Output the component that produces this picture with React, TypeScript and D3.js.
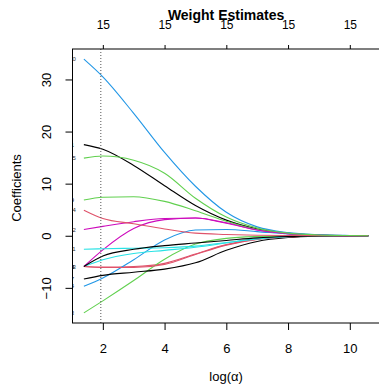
import { useEffect, useRef } from 'react';
import * as d3 from 'd3';

// ─── Data ───────────────────────────────────────────────────

const logAlpha = [1.386, 2, 3, 4, 5, 6, 7, 8, 9, 10, 10.6];

const v1 = [17.5, 16.6, 13.5, 9.6, 5.8, 3.0, 1.3, 0.45, 0.12, 0.03, 0];
const v2 = [-5.9, -6.0, -5.9, -5.3, -3.5, -1.7, -0.65, -0.22, -0.05, 0, 0];
const v3 = [-14.8, -12.5, -8.6, -4.5, -1.6, -0.5, -0.15, -0.05, 0, 0, 0];
const v4 = [-9.7, -8.1, -4.6, -0.8, 1.1, 1.2, 0.8, 0.35, 0.1, 0.02, 0];
const v5 = [-5.9, -4.6, -3.4, -2.8, -2.2, -1.4, -0.6, -0.2, -0.05, 0, 0];
const v6 = [-5.9, -2.7, 1.4, 3.1, 3.4, 2.5, 1.1, 0.4, 0.1, 0.02, 0];
const v7 = [-8.3, -7.6, -7.0, -6.4, -5.2, -2.8, -1.1, -0.35, -0.08, 0, 0];
const v8 = [-5.9, -6.1, -6.1, -5.5, -3.6, -1.8, -0.7, -0.25, -0.06, 0, 0];
const v9 = [6.85, 7.4, 7.5, 6.6, 4.8, 2.8, 1.2, 0.45, 0.12, 0.03, 0];
const v10 = [33.9, 30.5, 23.5, 16.0, 9.5, 4.5, 1.7, 0.6, 0.2, 0.05, 0];
const v11 = [-2.6, -2.5, -2.4, -2.3, -2.0, -1.3, -0.6, -0.2, -0.05, 0, 0];
const v12 = [1.2, 1.8, 2.7, 3.3, 3.4, 2.4, 1.1, 0.4, 0.1, 0.02, 0];
const v13 = [-5.9, -3.9, -2.6, -1.9, -1.4, -0.9, -0.4, -0.15, -0.04, 0, 0];
const v14 = [4.9, 3.3, 2.3, 1.3, 0.5, 0.25, 0.1, 0.05, 0.02, 0, 0];
const v15 = [14.9, 15.3, 14.5, 12.0, 7.2, 3.6, 1.5, 0.5, 0.15, 0.04, 0];

const coefs = [v1, v2, v3, v4, v5, v6, v7, v8, v9, v10, v11, v12, v13, v14, v15];
const varLabels = coefs.map((_, i) => String(i + 1));

const xTicks = [2, 4, 6, 8, 10];
const topTickLabels = ['15', '15', '15', '15', '15'];
const yTicks = [-10, 0, 10, 20, 30];
const bestLogAlpha = 1.935;

const PALETTE = ['#000000', '#DF536B', '#61D04F', '#2297E6', '#28E2E5', '#CD0BBC'];

// ─── Layout ─────────────────────────────────────────────────

const W = 379;
const H = 385;
const BOX = { left: 72.5, right: 379.7, top: 49, bottom: 323 };
const FONT = 'Liberation Sans, Arial, Helvetica, sans-serif';

export default function App() {
  const svgRef = useRef<SVGSVGElement>(null);

  useEffect(() => {
    if (!svgRef.current) return;
    const svg = d3.select(svgRef.current);
    svg.selectAll('*').remove();

    // R-style 4% padded ranges
    const xExt = d3.extent(logAlpha) as [number, number];
    const xPad = (xExt[1] - xExt[0]) * 0.04;
    const allVals = coefs.flat();
    const yExt = d3.extent(allVals) as [number, number];
    const yPad = (yExt[1] - yExt[0]) * 0.04;

    const x = d3.scaleLinear().domain([xExt[0] - xPad, xExt[1] + xPad]).range([BOX.left, BOX.right]);
    const y = d3.scaleLinear().domain([yExt[0] - yPad, yExt[1] + yPad]).range([BOX.bottom, BOX.top]);

    svg.append('defs').append('clipPath').attr('id', 'plotclip')
      .append('rect')
      .attr('x', BOX.left).attr('y', BOX.top)
      .attr('width', BOX.right - BOX.left).attr('height', BOX.bottom - BOX.top);

    const plot = svg.append('g').attr('clip-path', 'url(#plotclip)');

    // Coefficient paths
    const line = d3.line<number>()
      .x((_, i) => x(logAlpha[i]))
      .y((d) => y(d))
      .curve(d3.curveMonotoneX);

    coefs.forEach((vals, i) => {
      plot.append('path').datum(vals)
        .attr('fill', 'none')
        .attr('stroke', PALETTE[i % PALETTE.length])
        .attr('stroke-width', 1.1)
        .attr('d', line);
    });

    // Variable labels at the left end (clipped by the box)
    coefs.forEach((vals, i) => {
      plot.append('text')
        .attr('x', BOX.left)
        .attr('y', y(vals[0]))
        .attr('dy', '0.35em')
        .attr('text-anchor', 'middle')
        .attr('font-family', FONT)
        .attr('font-size', 6)
        .attr('fill', '#333')
        .text(varLabels[i]);
    });

    // Selected alpha
    plot.append('line')
      .attr('x1', x(bestLogAlpha)).attr('x2', x(bestLogAlpha))
      .attr('y1', BOX.top).attr('y2', BOX.bottom)
      .attr('stroke', '#555')
      .attr('stroke-width', 1)
      .attr('stroke-dasharray', '1 2');

    // Box
    svg.append('rect')
      .attr('x', BOX.left).attr('y', BOX.top)
      .attr('width', BOX.right - BOX.left).attr('height', BOX.bottom - BOX.top)
      .attr('fill', 'none').attr('stroke', '#000').attr('stroke-width', 1);

    const styleAxis = (sel: d3.Selection<SVGGElement, unknown, null, undefined>, size: number) => {
      sel.select('.domain').remove();
      sel.selectAll('line').attr('stroke', '#000');
      sel.selectAll('text').attr('fill', '#000').attr('font-family', FONT).attr('font-size', size);
    };

    // Bottom axis
    svg.append('g').attr('transform', `translate(0,${BOX.bottom})`)
      .call(d3.axisBottom(x).tickValues(xTicks).tickSize(7).tickPadding(14).tickFormat(d3.format('d')))
      .call((s) => styleAxis(s, 13));

    // Top axis (number of nonzero coefficients)
    svg.append('g').attr('transform', `translate(0,${BOX.top})`)
      .call(d3.axisTop(x).tickValues(xTicks).tickSize(4).tickPadding(16)
        .tickFormat((_, i) => topTickLabels[i]))
      .call((s) => styleAxis(s, 12));

    // Left axis with rotated labels
    const ly = svg.append('g').attr('transform', `translate(${BOX.left},0)`)
      .call(d3.axisLeft(y).tickValues(yTicks).tickSize(7).tickFormat((d) => {
        const v = Number(d);
        return v < 0 ? `\u2212${Math.abs(v)}` : String(v);
      }))
      .call((s) => styleAxis(s, 13));
    ly.selectAll<SVGTextElement, number>('text')
      .attr('x', null).attr('dy', null)
      .attr('text-anchor', 'middle')
      .attr('transform', 'translate(-26,0) rotate(-90) translate(0,4.5)');

    // Titles
    svg.append('text')
      .attr('x', (BOX.left + BOX.right) / 2).attr('y', 20)
      .attr('text-anchor', 'middle')
      .attr('font-family', FONT).attr('font-size', 14).attr('font-weight', 'bold')
      .text('Weight Estimates');

    svg.append('text')
      .attr('x', (BOX.left + BOX.right) / 2).attr('y', 381)
      .attr('text-anchor', 'middle')
      .attr('font-family', FONT).attr('font-size', 13)
      .text('log(\u03b1)');

    svg.append('text')
      .attr('transform', `translate(21,${(BOX.top + BOX.bottom) / 2 + 2}) rotate(-90)`)
      .attr('text-anchor', 'middle')
      .attr('font-family', FONT).attr('font-size', 13)
      .text('Coefficients');
  }, []);

  return (
    <svg
      ref={svgRef}
      width={W}
      height={H}
      style={{ position: 'absolute', left: 0, top: 0, background: '#fff' }}
    />
  );
}
